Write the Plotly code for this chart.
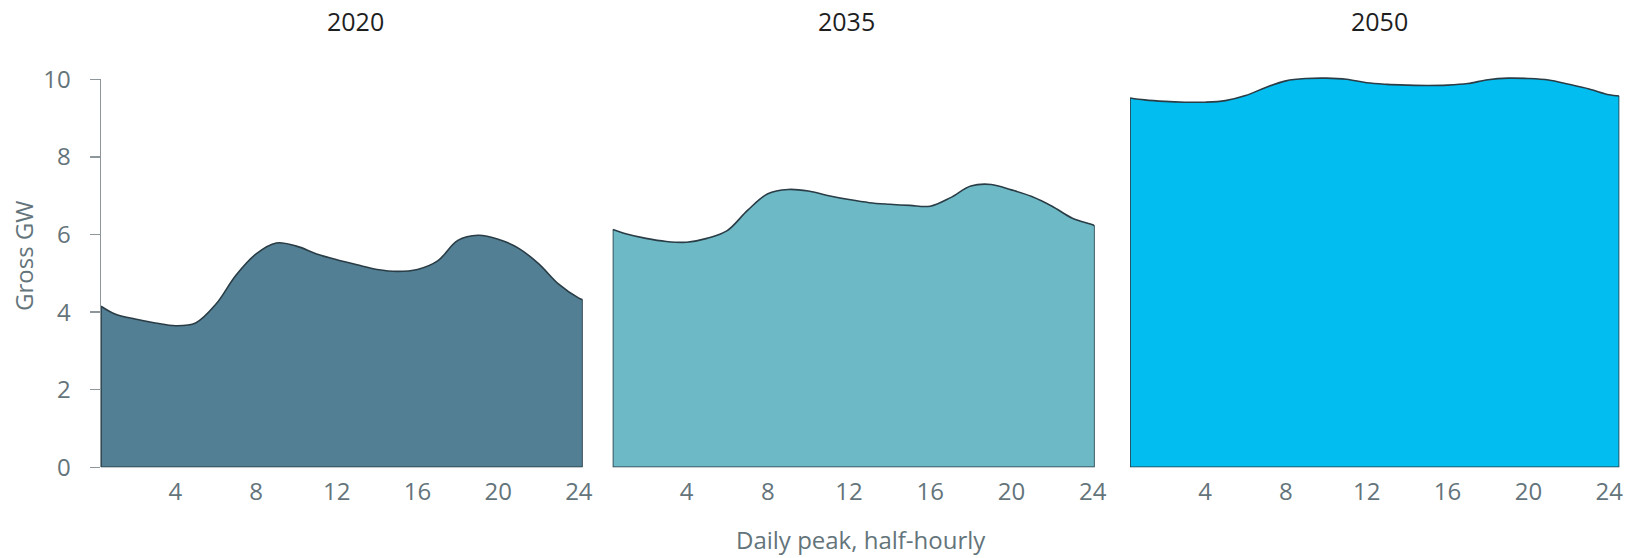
import plotly.graph_objects as go

W, H = 1636, 558

years = ["2020", "2035", "2050"]

hours_2020 = [0.31, 1, 2, 3, 4, 5, 6, 7, 8, 9, 10, 11, 12, 13, 14, 15, 16, 17, 18, 19, 20, 21, 22, 23, 24, 24.19]
gw_2020 = [4.15, 3.95, 3.82, 3.72, 3.65, 3.72, 4.2, 4.95, 5.5, 5.78, 5.7, 5.5, 5.35, 5.22, 5.1, 5.05, 5.1,
           5.32, 5.85, 5.98, 5.88, 5.65, 5.25, 4.72, 4.36, 4.32]

hours_2035 = [0.36, 1, 2, 3, 4, 5, 6, 7, 8, 9, 10, 11, 12, 13, 14, 15, 16, 17, 18, 19, 20, 21, 22, 23, 24, 24.1]
gw_2035 = [6.13, 6.02, 5.9, 5.82, 5.8, 5.9, 6.1, 6.62, 7.05, 7.16, 7.12, 7.0, 6.9, 6.82, 6.78, 6.75, 6.73,
           6.95, 7.25, 7.29, 7.15, 6.98, 6.73, 6.42, 6.25, 6.22]

hours_2050 = [0.28, 1, 2, 3, 4, 5, 6, 7, 8, 9, 10, 11, 12, 13, 14, 15, 16, 17, 18, 19, 20, 21, 22, 23, 24, 24.5]
gw_2050 = [9.52, 9.47, 9.43, 9.41, 9.41, 9.45, 9.58, 9.79, 9.96, 10.02, 10.03, 10.0, 9.91, 9.87, 9.85, 9.84,
           9.85, 9.89, 9.99, 10.03, 10.02, 9.98, 9.87, 9.75, 9.6, 9.57]

x_tick_vals = [4, 8, 12, 16, 20, 24]
x_tick_text = ["4", "8", "12", "16", "20", "24"]
y_tick_vals = [0, 2, 4, 6, 8, 10]
y_tick_text = ["0", "2", "4", "6", "8", "10"]

x_title = "Daily peak, half-hourly"
y_title = "Gross GW"

series = [(hours_2020, gw_2020), (hours_2035, gw_2035), (hours_2050, gw_2050)]
fill_colors = ["#527f93", "#6db9c6", "#02bdf0"]
edge_color = "#2a3d46"
tick_color = "#64747b"
axis_line_color = "#8d979b"
FONT = "Open Sans"

# panel placement in pixels (left, right)
panels_px = [(101, 582.7), (612.7, 1094.7), (1130, 1619.3)]
y_bottom_px, y_top_px = 467.3, 79.3
px_per_unit = (y_bottom_px - y_top_px) / 10.0
y_headroom = 0.3  # extra range above 10 on the axis-less panels so peaks are not clipped
title_x_px = [355.5, 846.7, 1379.7]

fig = go.Figure()

for i, ((hx, gy), col) in enumerate(zip(series, fill_colors)):
    sfx = "" if i == 0 else str(i + 1)
    xa, ya = "x" + sfx, "y" + sfx
    fig.add_trace(go.Scatter(
        x=hx, y=gy, mode="lines", fill="tozeroy", fillcolor=col,
        line=dict(color=edge_color, width=1.6, shape="spline", smoothing=1.0),
        xaxis=xa, yaxis=ya, showlegend=False, hoverinfo="skip", cliponaxis=False,
    ))
    fig.add_trace(go.Scatter(
        x=[hx[0], hx[0], hx[-1], hx[-1]], y=[gy[0], 0, 0, gy[-1]], mode="lines",
        line=dict(color=edge_color, width=1.6),
        xaxis=xa, yaxis=ya, showlegend=False, hoverinfo="skip", cliponaxis=False,
    ))
    l, r = panels_px[i]
    fig.layout["xaxis" + sfx] = dict(
        domain=[l / W, r / W], range=[hx[0], hx[-1]], anchor=ya,
        showgrid=False, zeroline=False, showline=False, ticks="",
        tickmode="array", tickvals=x_tick_vals, ticktext=x_tick_text,
        tickfont=dict(family=FONT, size=24, color=tick_color),
        ticklabelstandoff=8, automargin=False, fixedrange=True,
    )
    if i == 0:
        ytop_val = 10.0
    else:
        ytop_val = 10.0 + y_headroom
    top_px = y_bottom_px - ytop_val * px_per_unit
    yconf = dict(
        domain=[1 - y_bottom_px / H, 1 - top_px / H], range=[0, ytop_val], anchor=xa,
        showgrid=False, zeroline=False, automargin=False, fixedrange=True,
    )
    if i == 0:
        yconf.update(
            showline=True, linecolor=axis_line_color, linewidth=1.5,
            ticks="outside", ticklen=10, tickwidth=1.5, tickcolor=axis_line_color,
            tickmode="array", tickvals=y_tick_vals, ticktext=y_tick_text,
            tickfont=dict(family=FONT, size=24, color=tick_color),
            ticklabelstandoff=14,
        )
    else:
        yconf.update(visible=False)
    fig.layout["yaxis" + sfx] = yconf
    fig.add_annotation(
        text=years[i], x=title_x_px[i] / W, y=1 - 21 / H, xref="paper", yref="paper",
        xanchor="center", yanchor="middle", showarrow=False,
        font=dict(family=FONT, size=25, color="#1e1e1e"),
    )

fig.add_annotation(
    text=x_title, x=861 / W, y=1 - 539 / H, xref="paper", yref="paper",
    xanchor="center", yanchor="middle", showarrow=False,
    font=dict(family=FONT, size=24, color=tick_color),
)
fig.add_annotation(
    text=y_title, x=23 / W, y=1 - 256 / H, xref="paper", yref="paper",
    xanchor="center", yanchor="middle", showarrow=False, textangle=-90,
    font=dict(family=FONT, size=24, color=tick_color),
)

fig.update_layout(
    width=W, height=H, margin=dict(l=0, r=0, t=0, b=0),
    paper_bgcolor="white", plot_bgcolor="white",
)

fig.write_html(
    "out.html",
    config={"displayModeBar": False, "staticPlot": True},
    post_script="document.body.style.margin='0';document.body.style.overflow='hidden';",
)
